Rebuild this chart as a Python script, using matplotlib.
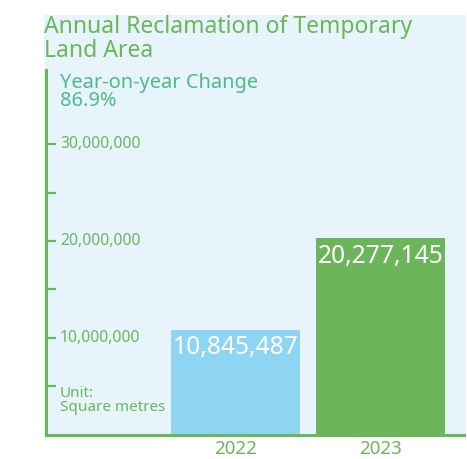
import matplotlib.pyplot as plt
from matplotlib.patches import Rectangle
from matplotlib.transforms import blended_transform_factory

years = ["2022", "2023"]
areas = [10845487, 20277145]
bar_colors = ["#8ED4F3", "#6DB55A"]
major_ticks = [10000000, 20000000, 30000000]
major_labels = ["10,000,000", "20,000,000", "30,000,000"]
minor_ticks = [5000000, 15000000, 25000000]
yoy_label = "Year-on-year Change\n86.9%"
unit_label = "Unit:\nSquare metres"

GREEN = "#6BB659"
TEAL = "#50B98A"
PANEL = "#E8F4FC"
FONT = "Noto Sans"

W, H = 467, 459
fig = plt.figure(figsize=(W / 100, H / 100), dpi=100)

# light blue panel behind everything
fig.patches.append(Rectangle((44 / W, 1 - 434 / H), (466 - 44) / W, (434 - 15) / H,
                             transform=fig.transFigure, facecolor=PANEL, edgecolor="none", zorder=-5))

fig.text(44 / W, 1 - 33 / H, "Annual Reclamation of Temporary", color=GREEN,
         fontsize=16.5, family=FONT, weight="medium", va="baseline", ha="left")
fig.text(44 / W, 1 - 57 / H, "Land Area", color=GREEN,
         fontsize=16.5, family=FONT, weight="medium", va="baseline", ha="left")

ax = fig.add_axes([45.5 / W, 1 - 434.5 / H, (464 - 45.5) / W, (434.5 - 70) / H])
ax.set_facecolor("none")
ax.set_zorder(2)

x = list(range(len(years)))
ax.bar(x, areas, width=0.89, color=bar_colors, zorder=2)
ax.set_xlim(-1.31, 1.575)
ax.set_ylim(0, 37.7e6)

for xi, v in zip(x, areas):
    ax.annotate(f"{v:,}", (xi, v), xytext=(0, -4), textcoords="offset points",
                ha="center", va="top", color="white", fontsize=17.7, family=FONT, zorder=3)

for s in ["top", "right"]:
    ax.spines[s].set_visible(False)
for s in ["left", "bottom"]:
    ax.spines[s].set_color(GREEN)
    ax.spines[s].set_linewidth(2.2)

ax.set_xticks(x)
ax.set_xticklabels(years, color=GREEN, fontsize=13.5, family=FONT, weight="semibold")
ax.tick_params(axis="x", length=0, pad=4)

ax.set_yticks(major_ticks + [5000000])
ax.set_yticks(minor_ticks[1:], minor=True)
ax.set_yticklabels([])
ax.tick_params(axis="y", which="both", direction="in", length=7, width=1.6, color=GREEN)

trans = blended_transform_factory(ax.transAxes, ax.transData)
lx = (60 - 45.5) / (464 - 45.5)
for t, lab in zip(major_ticks, major_labels):
    ax.text(lx, t, lab, transform=trans, ha="left", va="center", color=GREEN,
            fontsize=11.3, family=FONT, weight="semibold")

ax.text(lx, 5000000, unit_label, transform=trans, ha="left", va="top", color=GREEN,
        fontsize=11, family=FONT, linespacing=0.9)

ax.text(lx, 1 - 3 / (434.5 - 70), yoy_label, transform=ax.transAxes, ha="left", va="top",
        color=TEAL, fontsize=14.4, family=FONT, weight="medium", linespacing=0.85)

fig.savefig("out.png", dpi=100)
